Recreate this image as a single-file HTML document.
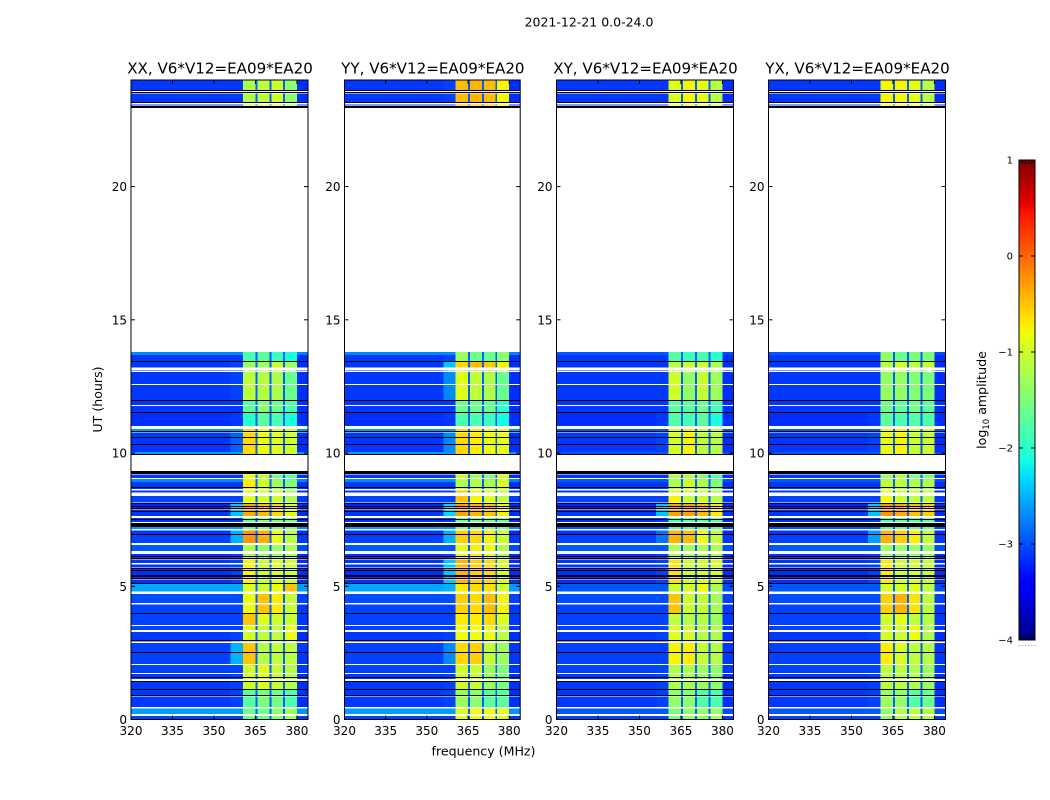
<!DOCTYPE html>
<html lang="en">
<head>
<meta charset="utf-8">
<title>2021-12-21 0.0-24.0</title>
<style>
html,body{margin:0;padding:0;background:#fff;width:1050px;height:800px;overflow:hidden}
svg{display:block}
text{font-family:"DejaVu Sans","Liberation Sans",sans-serif;fill:#000}
</style>
</head>
<body>
<svg id="chart" xmlns="http://www.w3.org/2000/svg" width="1050" height="800" viewBox="0 0 1050 800">
  <text x="589" y="26.5" font-size="12.5" text-anchor="middle">2021-12-21 0.0-24.0</text>
  <text x="483.5" y="755.5" font-size="12.6" text-anchor="middle">frequency (MHz)</text>
  <text x="102" y="399.5" font-size="12.6" text-anchor="middle" transform="rotate(-90 102 399.5)">UT (hours)</text>
  <text x="986" y="400" font-size="12.6" text-anchor="middle" transform="rotate(-90 986 400)">log<tspan font-size="8.5" dy="3">10</tspan><tspan dy="-3"> amplitude</tspan></text>
  <g id="panels"></g>
  <g id="colorbar"></g>
</svg>
<script>
// ---------- DATA (log10 amplitude, hours and MHz) ----------
const polarisations = ['XX', 'YY', 'XY', 'YX'];
const baselineLabel = 'V6*V12=EA09*EA20';
const xTickLabels = [320, 335, 350, 365, 380];
const yTickLabels = [0, 5, 10, 15, 20];
const colorbarTickLabels = [1, 0, -1, -2, -3, -4];

// Integration rows, top to bottom: [hour start, hour end, off-band level | 'k' black flag | 'w' white flag]
const rows = [
[24.00,23.63,-3.1],[23.63,23.59,'k'],[23.59,23.54,'w'],[23.54,23.49,'k'],[23.49,23.17,-3.1],[23.17,23.13,'k'],[23.13,23.08,'w'],[23.08,23.04,-3.1],[23.04,22.96,'k'],
[13.79,13.68,-2.7],[13.68,13.44,-3.1],[13.44,13.41,'k'],[13.41,13.21,-3.1],[13.21,13.15,'w'],[13.15,13.09,-3.1],[13.09,13.05,'w'],[13.05,12.59,-3.1],[12.59,12.55,'w'],[12.55,11.99,-3.1],[11.99,11.95,'k'],[11.95,11.80,-3.1],[11.80,11.76,'w'],[11.76,11.54,-3.1],[11.54,11.51,'k'],[11.51,11.02,-3.15],[11.02,10.91,'w'],[10.91,10.81,-2.6],[10.81,10.78,'k'],[10.78,10.59,-3.1],[10.59,10.56,'k'],[10.56,10.34,-3.1],[10.34,10.30,'k'],[10.30,10.04,-3.1],[10.04,9.96,-2.6],[9.96,9.92,'k'],
[9.32,9.19,'k'],[9.19,9.06,-3.1],[9.06,9.02,'w'],[9.02,8.92,-2.7],[8.92,8.72,-3.1],[8.72,8.69,'k'],[8.69,8.65,-3.1],[8.65,8.60,'w'],[8.60,8.51,-3.1],[8.51,8.44,'w'],[8.44,8.41,-3.1],[8.41,8.39,'w'],[8.39,8.14,-3.05],[8.14,8.10,'k'],[8.10,8.01,-3.2],[8.01,7.98,'k'],[7.98,7.93,-3.2],[7.93,7.89,'k'],[7.89,7.82,-3.2],[7.82,7.80,'k'],[7.80,7.64,-3.1],[7.64,7.56,'w'],[7.56,7.51,-3.1],[7.51,7.49,'k'],[7.49,7.40,-3.15],[7.40,7.36,'w'],[7.36,7.22,'k'],[7.22,7.14,-2.6],[7.14,7.10,'w'],[7.10,6.95,-3.1],[6.95,6.92,'k'],[6.92,6.62,-3.05],[6.62,6.55,'w'],[6.55,6.33,-2.95],[6.33,6.21,'w'],[6.21,6.12,-3.1],[6.12,6.10,'k'],[6.10,6.05,-3.1],[6.05,6.01,'k'],[6.01,5.86,-3.1],[5.86,5.81,'w'],[5.81,5.70,-3.1],[5.70,5.66,'k'],[5.66,5.60,-3.15],[5.60,5.57,'k'],[5.57,5.42,-3.15],[5.42,5.36,'k'],[5.36,5.30,-3.15],[5.30,5.26,'k'],[5.26,5.13,-3.15],[5.13,5.08,'k'],[5.08,4.80,-2.55],[4.80,4.71,'w'],[4.71,4.36,-3.0],[4.36,4.32,'w'],[4.32,3.98,-3.05],[3.98,3.96,'k'],[3.96,3.55,-3.05],[3.55,3.50,'w'],[3.50,3.36,-3.05],[3.36,3.29,'w'],[3.29,2.98,-3.1],[2.98,2.96,'k'],[2.96,2.92,-3.1],[2.92,2.88,'w'],[2.88,2.52,-3.05],[2.52,2.50,'k'],[2.50,2.08,-3.05],[2.08,2.05,'w'],[2.05,1.74,-3.05],[1.74,1.71,'w'],[1.71,1.58,-3.1],[1.58,1.55,'k'],[1.55,1.52,-3.1],[1.52,1.45,'w'],[1.45,1.41,'k'],[1.41,1.13,-3.1],[1.13,1.11,'k'],[1.11,0.91,-3.1],[0.91,0.86,'k'],[0.86,0.46,-3.1],[0.46,0.42,'w'],[0.42,0.21,-2.6],[0.21,0.14,'w'],[0.14,0,-3.05]
];

// Time blocks over which the sub-band levels hold steady (hours)
const blockEdges = [
[24,22.96],[13.79,13.41],[13.41,13.05],[13.05,11.99],[11.99,11.54],[11.54,10.91],[10.91,9.92],[9.32,8.99],[8.99,8.65],[8.65,8.14],[8.14,7.64],[7.64,7.14],[7.14,6.55],[6.55,6.01],[6.01,5.08],[5.08,4.75],[4.75,3.98],[3.98,3.55],[3.55,2.98],[2.98,2.08],[2.08,1.11],[1.11,0.46],[0.46,0]
];

// Sub-band levels per block: 360.5-365, 365.8-370, 370.8-375, 375.6-380 MHz
const levelsXX = [
[-1.2,-1.1,-1.0,-1.4],[-1.8,-1.7,-1.9,-2.1],[-1.3,-1.3,-1.0,-1.3],[-1.1,-1.15,-1.2,-1.6],[-1.7,-1.4,-1.6,-1.8],[-2.0,-1.7,-1.8,-2.1],[-0.6,-0.8,-0.9,-1.0],[-0.9,-1.1,-1.5,-1.7],[-0.7,-1.0,-1.3,-1.5],[-0.9,-1.0,-1.0,-1.2],[-0.35,-0.45,-0.6,-0.85],[-1.6,-1.4,-1.5,-1.5],[-0.25,-0.4,-0.8,-1.1],[-1.2,-1.35,-1.3,-1.2],[-0.75,-1.0,-0.9,-1.0],[-0.9,-1.0,-0.8,-0.5],[-0.8,-0.5,-0.7,-1.05],[-0.5,-0.9,-1.0,-1.05],[-0.95,-1.1,-1.1,-0.8],[-0.5,-1.15,-1.1,-1.1],[-1.0,-0.9,-1.05,-1.15],[-1.7,-1.5,-1.55,-1.8],[-1.6,-1.6,-1.4,-1.3]
];
const levelsYY = [
[-0.45,-0.4,-0.45,-0.75],[-1.3,-1.6,-1.6,-1.4],[-0.6,-0.45,-0.55,-0.75],[-0.9,-1.1,-1.2,-1.6],[-1.6,-1.6,-1.6,-2.0],[-1.8,-1.8,-1.9,-2.1],[-0.6,-0.7,-0.8,-0.85],[-1.1,-1.3,-1.4,-1.0],[-1.2,-1.2,-1.2,-0.95],[-0.5,-0.75,-0.9,-1.1],[-0.3,-0.4,-0.5,-0.75],[-1.6,-1.5,-1.5,-1.6],[-0.55,-0.6,-0.75,-1.0],[-0.85,-0.7,-0.8,-1.15],[-0.4,-0.55,-0.6,-0.95],[-0.7,-0.6,-0.65,-1.0],[-0.55,-0.6,-0.45,-0.75],[-0.7,-0.7,-0.6,-0.9],[-0.8,-0.8,-0.8,-1.1],[-0.6,-0.55,-1.05,-1.3],[-1.0,-1.05,-1.3,-1.5],[-1.3,-1.4,-1.7,-1.7],[-0.9,-0.8,-0.8,-0.85]
];
const levelsXY = [
[-0.9,-0.75,-0.85,-1.15],[-1.75,-1.9,-1.8,-2.0],[-1.1,-1.0,-1.0,-1.2],[-1.0,-1.35,-1.05,-1.3],[-1.7,-1.7,-1.6,-1.85],[-1.75,-1.85,-1.7,-2.1],[-0.95,-0.75,-1.1,-1.15],[-1.2,-1.15,-1.4,-1.7],[-1.2,-1.0,-1.2,-1.5],[-0.75,-1.05,-1.0,-1.15],[-0.3,-0.3,-0.45,-0.7],[-1.8,-1.7,-1.65,-1.7],[-0.4,-0.45,-0.8,-1.05],[-1.2,-1.25,-1.2,-1.2],[-0.65,-1.0,-0.95,-0.95],[-1.0,-0.95,-0.8,-1.2],[-0.5,-1.0,-1.05,-1.25],[-1.1,-1.15,-1.15,-1.3],[-0.9,-0.95,-1.15,-1.2],[-0.75,-0.7,-1.05,-1.15],[-1.2,-1.2,-1.3,-1.4],[-1.35,-1.4,-1.75,-1.8],[-1.5,-1.35,-1.35,-1.3]
];
const levelsYX = [
[-0.75,-0.75,-0.85,-1.15],[-1.4,-1.6,-1.5,-1.5],[-1.15,-0.95,-1.1,-1.05],[-1.35,-1.35,-1.45,-1.5],[-1.55,-1.65,-1.55,-1.7],[-1.7,-1.8,-1.75,-1.75],[-0.85,-0.75,-1.05,-1.05],[-1.3,-1.2,-1.45,-1.45],[-1.1,-1.1,-1.2,-1.2],[-0.8,-1.0,-1.1,-1.1],[-0.25,-0.35,-0.45,-0.55],[-1.75,-1.65,-1.7,-1.65],[-0.4,-0.55,-0.7,-1.05],[-1.3,-1.3,-1.3,-1.3],[-0.7,-1.0,-0.95,-1.05],[-0.95,-0.95,-0.9,-1.1],[-0.55,-0.4,-0.65,-1.1],[-1.0,-0.85,-1.1,-1.15],[-0.95,-1.0,-0.8,-1.2],[-0.7,-0.95,-1.1,-1.15],[-1.1,-1.1,-1.2,-1.3],[-1.3,-1.35,-1.75,-1.6],[-1.35,-1.15,-1.1,-1.15]
];

// Level of the shoulder just below the band (356-360.5 MHz), one per block
const shoulderXX = [-3.1,-3.1,-3.05,-3.05,-3.1,-3.1,-2.9,-3.1,-3.1,-3.1,-2.4,-3.1,-2.5,-3.05,-3.05,-2.6,-3.05,-3.05,-3.05,-2.5,-3.05,-3.05,-3.05];
const shoulderYY = [-3.05,-3.05,-2.4,-2.7,-3.1,-3.1,-2.7,-3.1,-3.1,-3.05,-2.3,-3.1,-2.5,-3.05,-2.4,-2.5,-3.05,-3.05,-3.05,-2.7,-3.05,-3.05,-3.05];
const shoulderXY = [-3.1,-3.1,-3.1,-3.1,-3.1,-3.1,-3.05,-3.1,-3.1,-3.1,-2.4,-3.1,-2.8,-3.05,-3.05,-3.05,-3.05,-3.05,-3.05,-3.05,-3.05,-3.05,-3.05];
const shoulderYX = [-3.1,-3.1,-3.1,-3.1,-3.1,-3.1,-3.05,-3.1,-3.1,-3.1,-2.4,-3.1,-2.6,-3.05,-3.05,-3.05,-3.05,-3.05,-3.05,-3.05,-3.05,-3.05,-3.05];

// Other fixed levels
const notchLevel = -2.9;
const upperEdgeLevel = -3.15;
const crossPolBackgroundCap = -2.95;

// Frequency columns (MHz)
const columnEdges = [
  {from:320,   to:356,   kind:'off'},
  {from:356,   to:360.5, kind:'shoulder'},
  {from:360.5, to:365,   kind:'band', band:0},
  {from:365,   to:365.8, kind:'notch'},
  {from:365.8, to:370,   kind:'band', band:1},
  {from:370,   to:370.8, kind:'notch'},
  {from:370.8, to:375,   kind:'band', band:2},
  {from:375,   to:375.6, kind:'notch'},
  {from:375.6, to:380,   kind:'band', band:3},
  {from:380,   to:384,   kind:'upper'}
];

// ---------- LAYOUT ----------
const SVG_NS = 'http://www.w3.org/2000/svg';
const panelLeft = {XX:131, YY:344.5, XY:556.5, YX:768.5};
const panelWidths = {XX:177, YY:175.7, XY:177, YX:177};
const plotTop = 80, plotBottom = 719.5;
const xDomain = [320, 384];
const yDomain = [0, 24];
const levelDomain = [-4, 1];
const cbar = {left:1019, right:1035, top:160, bottom:640};
const levelSets = {XX:levelsXX, YY:levelsYY, XY:levelsXY, YX:levelsYX};
const shoulderSets = {XX:shoulderXX, YY:shoulderYY, XY:shoulderXY, YX:shoulderYX};

function xScale(pol, mhz){ return panelLeft[pol] + (mhz - xDomain[0]) / (xDomain[1] - xDomain[0]) * panelWidths[pol]; }
function yScale(hour){ return plotBottom - (hour - yDomain[0]) / (yDomain[1] - yDomain[0]) * (plotBottom - plotTop); }
function cbarScale(level){ return cbar.bottom - (level - levelDomain[0]) / (levelDomain[1] - levelDomain[0]) * (cbar.bottom - cbar.top); }

function jetChannel(v, pts){
  for (let i = 1; i < pts.length; i++) {
    if (v <= pts[i][0]) {
      const p = pts[i - 1], q = pts[i];
      return p[1] + (q[1] - p[1]) * (v - p[0]) / (q[0] - p[0]);
    }
  }
  return pts[pts.length - 1][1];
}
function jet(level){
  const v = Math.max(0, Math.min(1, (level - levelDomain[0]) / (levelDomain[1] - levelDomain[0])));
  const r = jetChannel(v, [[0,0],[0.35,0],[0.66,1],[0.89,1],[1,0.5]]);
  const g = jetChannel(v, [[0,0],[0.125,0],[0.375,1],[0.64,1],[0.91,0],[1,0]]);
  const b = jetChannel(v, [[0,0.5],[0.11,1],[0.34,1],[0.65,0],[1,0]]);
  return 'rgb(' + Math.round(r * 255) + ',' + Math.round(g * 255) + ',' + Math.round(b * 255) + ')';
}

function make(tag, parent, attrs){
  const el = document.createElementNS(SVG_NS, tag);
  for (const k in attrs) el.setAttribute(k, attrs[k]);
  parent.appendChild(el);
  return el;
}

function cellLevel(pol, col, blockIndex, rowLevel){
  const off = (pol === 'XY' || pol === 'YX') ? Math.min(rowLevel, crossPolBackgroundCap) : rowLevel;
  if (col.kind === 'off') return off;
  if (col.kind === 'shoulder') return Math.max(off, shoulderSets[pol][blockIndex]);
  if (col.kind === 'upper') return Math.max(off - 0.05, upperEdgeLevel);
  if (col.kind === 'notch') return notchLevel;
  return levelSets[pol][blockIndex][col.band];
}

const panelsRoot = document.getElementById('panels');

polarisations.forEach(function(pol){
  const g = make('g', panelsRoot, {});
  
  

  const heat = make('g', g, {'shape-rendering':'crispEdges'});
  
  

  // observed cells first
  rows.forEach(function(row){
    const t0 = row[0], t1 = row[1], code = row[2];
    if (code === 'w' || code === 'k') return;
    blockEdges.forEach(function(block, bi){
      const top = Math.min(t0, block[0]), bot = Math.max(t1, block[1]);
      if (top <= bot) return;
      columnEdges.forEach(function(col){
        const cell = make('rect', heat, {
          x: xScale(pol, col.from), y: yScale(top),
          width: xScale(pol, col.to) - xScale(pol, col.from),
          height: yScale(bot) - yScale(top),
          fill: jet(cellLevel(pol, col, bi, code))
        });
        
        
      });
    });
  });

  // flagged rows drawn on top so thin lines stay solid
  rows.forEach(function(row){
    const t0 = row[0], t1 = row[1], code = row[2];
    if (code !== 'w' && code !== 'k') return;
    const flag = make('rect', heat, {
      x: xScale(pol, xDomain[0]), y: Math.round(yScale(t0)),
      width: xScale(pol, xDomain[1]) - xScale(pol, xDomain[0]),
      height: Math.max(1, Math.round(yScale(t1) - yScale(t0))),
      fill: code === 'w' ? '#fff' : '#000'
    });
    
    
  });

  const left = xScale(pol, xDomain[0]), right = xScale(pol, xDomain[1]);

  const frame = make('rect', g, {x:left, y:plotTop, width:right - left, height:plotBottom - plotTop, fill:'none', stroke:'#000', 'stroke-width':1});
  
  

  const title = make('text', g, {x:(left + right) / 2 + 0.5, y:73.5, 'font-size':15.1, 'text-anchor':'middle'});
  
  
  title.textContent = pol + ', ' + baselineLabel;

  xTickLabels.forEach(function(tick){
    const x = xScale(pol, tick);
    const bottomTick = make('line', g, {x1:x, x2:x, y1:plotBottom, y2:plotBottom - 4, stroke:'#000', 'stroke-width':1});
    
    
    const topTick = make('line', g, {x1:x, x2:x, y1:plotTop, y2:plotTop + 4, stroke:'#000', 'stroke-width':1});
    
    
    const label = make('text', g, {x:x, y:735, 'font-size':12, 'text-anchor':'middle'});
    
    
    label.textContent = String(tick);
  });

  yTickLabels.forEach(function(tick){
    const y = yScale(tick);
    const leftTick = make('line', g, {x1:left, x2:left + 4, y1:y, y2:y, stroke:'#000', 'stroke-width':1});
    
    
    const rightTick = make('line', g, {x1:right, x2:right - 4, y1:y, y2:y, stroke:'#000', 'stroke-width':1});
    
    
    const label = make('text', g, {x:left - 4, y:y + 4.5, 'font-size':12, 'text-anchor':'end'});
    
    
    label.textContent = String(tick);
  });
});

// ---------- COLORBAR ----------
const cbRoot = document.getElementById('colorbar');
const cbSteps = 256;
const cbRamp = make('g', cbRoot, {'shape-rendering':'crispEdges'});


for (let i = 0; i < cbSteps; i++) {
  const lo = levelDomain[0] + (levelDomain[1] - levelDomain[0]) * i / cbSteps;
  const hi = levelDomain[0] + (levelDomain[1] - levelDomain[0]) * (i + 1) / cbSteps;
  const seg = make('rect', cbRamp, {x:cbar.left, y:cbarScale(hi), width:cbar.right - cbar.left, height:cbarScale(lo) - cbarScale(hi) + 0.5, fill:jet((lo + hi) / 2)});
  
  
}
const cbFrame = make('rect', cbRoot, {x:cbar.left, y:cbar.top, width:cbar.right - cbar.left, height:cbar.bottom - cbar.top, fill:'none', stroke:'#000', 'stroke-width':1});



colorbarTickLabels.forEach(function(tick){
  const y = cbarScale(tick);
  const leftTick = make('line', cbRoot, {x1:cbar.left, x2:cbar.left + 4, y1:y, y2:y, stroke:'#000', 'stroke-width':1});
  
  
  const rightTick = make('line', cbRoot, {x1:cbar.right, x2:cbar.right - 4, y1:y, y2:y, stroke:'#000', 'stroke-width':1});
  
  
  const label = make('text', cbRoot, {x:cbar.left - 6, y:y + 3.5, 'font-size':10, 'text-anchor':'end'});
  
  
  label.textContent = String(tick).replace('-', '\u2212');
});

for (let i = 0; i <= 5; i++) {
  const x = cbar.left + (cbar.right - cbar.left) * i / 5;
  const topStub = make('line', cbRoot, {x1:x, x2:x, y1:cbar.top, y2:cbar.top + 4, stroke:'#000', 'stroke-width':1});
  
  
  const bottomStub = make('line', cbRoot, {x1:x, x2:x, y1:cbar.bottom, y2:cbar.bottom - 4, stroke:'#000', 'stroke-width':1});
  
  
  const dot = make('rect', cbRoot, {x:x - 0.5, y:645, width:1, height:1, fill:'#888'});
  
  
}
</script>
</body>
</html>
